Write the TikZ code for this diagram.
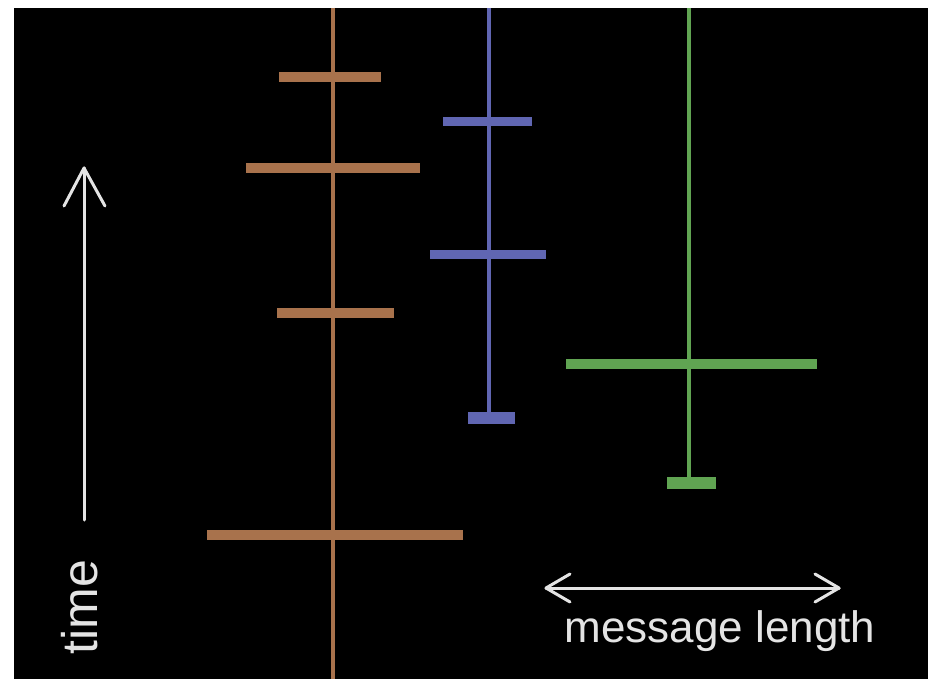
\documentclass[tikz,border=0pt]{standalone}
\usepackage{fontspec}
\setmainfont{Liberation Sans}
\definecolor{cbrown}{RGB}{168,114,76}
\definecolor{cblue}{RGB}{96,102,178}
\definecolor{cgreen}{RGB}{96,164,82}
\definecolor{ctext}{RGB}{228,228,228}
\begin{document}
\begin{tikzpicture}[x=1pt,y=-1pt,
  vline/.style={line width=4pt},
  bar/.style={line width=10pt},
  axisline/.style={ctext,line width=3pt,line cap=round,line join=round},
  lbl/.style={ctext,inner sep=0pt}]
\useasboundingbox (0,0) rectangle (928,679);
\fill[white] (0,0) rectangle (928,679);
\fill[black] (14,8) rectangle (928,679);
% brown
\coordinate (bt) at (333,8); \coordinate (bb) at (333,679);
\draw[cbrown,vline] (bt) -- (bb);
\coordinate (b1l) at (279,77); \coordinate (b1r) at (381,77);
\coordinate (b2l) at (246,168); \coordinate (b2r) at (420,168);
\coordinate (b3l) at (277,313); \coordinate (b3r) at (394,313);
\coordinate (b4l) at (207,535); \coordinate (b4r) at (463,535);
\foreach \i in {1,...,4} \draw[cbrown,bar] (b\i l) -- (b\i r);
% blue
\coordinate (ut) at (489,8); \coordinate (ub) at (489,418);
\draw[cblue,vline] (ut) -- (ub);
\coordinate (u1l) at (443,122); \coordinate (u1r) at (532,122);
\coordinate (u2l) at (430,254); \coordinate (u2r) at (546,254);
\coordinate (u3l) at (468,418); \coordinate (u3r) at (515,418);
\draw[cblue,line width=9pt] (u1l) -- (u1r);
\draw[cblue,line width=9pt] (u2l) -- (u2r);
\draw[cblue,line width=12pt] (u3l) -- (u3r);
% green
\coordinate (gt) at (689,8); \coordinate (gb) at (689,483);
\draw[cgreen,vline] (gt) -- (gb);
\coordinate (g1l) at (566,364); \coordinate (g1r) at (817,364);
\coordinate (g2l) at (667,483); \coordinate (g2r) at (716,483);
\draw[cgreen,bar] (g1l) -- (g1r);
\draw[cgreen,line width=12pt] (g2l) -- (g2r);
% time axis
\coordinate (ta) at (84,520); \coordinate (tb) at (84,168);
\coordinate (tl) at (64,206); \coordinate (tr) at (105,206);
\draw[axisline] (ta) -- (tb);
\draw[axisline] (tl) -- (tb) -- (tr);
\node[lbl,rotate=90,anchor=base,font=\fontsize{50}{50}\selectfont] (time) at (97,607) {time};
% message length axis
\coordinate (ml) at (546,588); \coordinate (mr) at (839,588);
\draw[axisline] (ml) -- (mr);
\draw[axisline] (570,574) -- (ml) -- (570,602);
\draw[axisline] (815,574) -- (mr) -- (815,602);
\node[lbl,anchor=base,font=\fontsize{44}{44}\selectfont] (msg) at (720,642) {message length};
\end{tikzpicture}
\end{document}
